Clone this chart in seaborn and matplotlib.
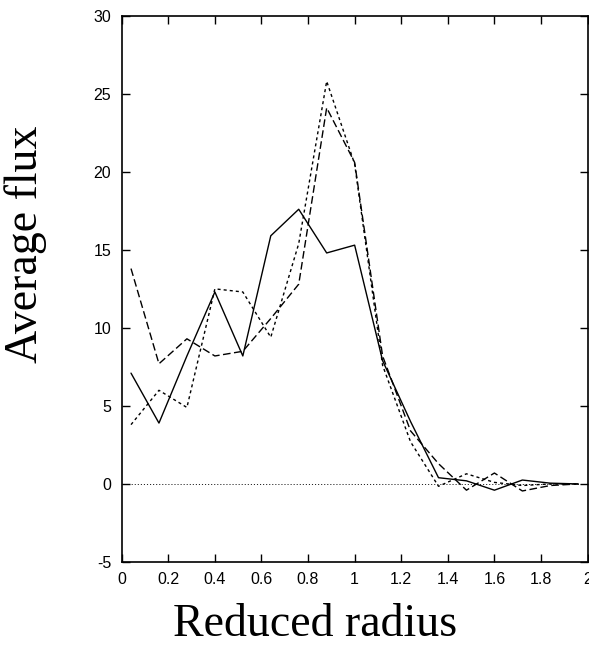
import numpy as np
import pandas as pd
import matplotlib.pyplot as plt
import seaborn as sns

# reduced radius bins
radius = [0.04, 0.16, 0.28, 0.40, 0.52, 0.64, 0.76, 0.88, 1.00,
          1.12, 1.24, 1.36, 1.48, 1.60, 1.72, 1.84, 1.96]

# average flux for the three samples
flux_solid = [7.1, 3.9, 8.2, 12.3, 8.2, 15.9, 17.6, 14.8, 15.3,
              7.9, 4.0, 0.4, 0.2, -0.4, 0.25, 0.05, 0.0]
flux_dashed = [13.8, 7.7, 9.3, 8.2, 8.5, 10.6, 12.8, 24.1, 20.6,
               8.2, 3.4, 1.3, -0.4, 0.7, -0.45, -0.1, 0.0]
flux_dotted = [3.8, 6.0, 4.9, 12.5, 12.3, 9.4, 15.4, 25.8, 20.5,
               7.6, 2.7, -0.15, 0.65, 0.1, -0.1, 0.0, 0.0]

xticks = [0, 0.2, 0.4, 0.6, 0.8, 1, 1.2, 1.4, 1.6, 1.8, 2]
xtick_labels = ['0', '0.2', '0.4', '0.6', '0.8', '1', '1.2', '1.4', '1.6', '1.8', '2']
yticks = [-5, 0, 5, 10, 15, 20, 25, 30]
ytick_labels = ['-5', '0', '5', '10', '15', '20', '25', '30']

sns.set_style('ticks')
plt.rcParams['font.family'] = ['Liberation Sans', 'DejaVu Sans']
plt.rcParams['lines.scale_dashes'] = False
plt.rcParams['axes.unicode_minus'] = False

df = pd.DataFrame({
    'radius': radius * 3,
    'flux': flux_solid + flux_dashed + flux_dotted,
    'sample': ['solid'] * len(radius) + ['dashed'] * len(radius) + ['dotted'] * len(radius),
})

fig = plt.figure(figsize=(5.89, 6.47), dpi=100)
ax = fig.add_axes([0.2066, 0.1314, 0.791, 0.8443])

styles = {
    'solid': '-',
    'dashed': (0, (5.5, 2.5)),
    'dotted': (0, (2.2, 2.2)),
}
for name, ls in styles.items():
    sub = df[df['sample'] == name]
    sns.lineplot(data=sub, x='radius', y='flux', ax=ax, color='black',
                 linewidth=1.0, linestyle=ls, legend=False)

# zero reference line
ax.axhline(0, color='black', linewidth=0.6, linestyle=(0, (0.8, 1.4)))

ax.set_xlim(0, 2)
ax.set_ylim(-5, 30)
ax.set_xticks(xticks)
ax.set_xticklabels(xtick_labels)
ax.set_yticks(yticks)
ax.set_yticklabels(ytick_labels)
ax.tick_params(direction='in', length=6, width=1.0, top=True, right=True,
               labelsize=11.5, colors='black')
ax.tick_params(axis='y', pad=7.5)
ax.tick_params(axis='x', pad=7)
for s in ax.spines.values():
    s.set_linewidth(1.2)
    s.set_color('black')

ax.set_xlabel('')
ax.set_ylabel('')
serif = ['Liberation Serif', 'DejaVu Serif']
fig.text(0.535, 0.002, 'Reduced radius', family=serif, fontsize=33,
         ha='center', va='bottom', color='black')
fig.text(0.044, 0.623, 'Average flux', family=serif, fontsize=33,
         ha='center', va='center', rotation=90, color='black')

fig.savefig('out.png', dpi=100)
plt.close(fig)
